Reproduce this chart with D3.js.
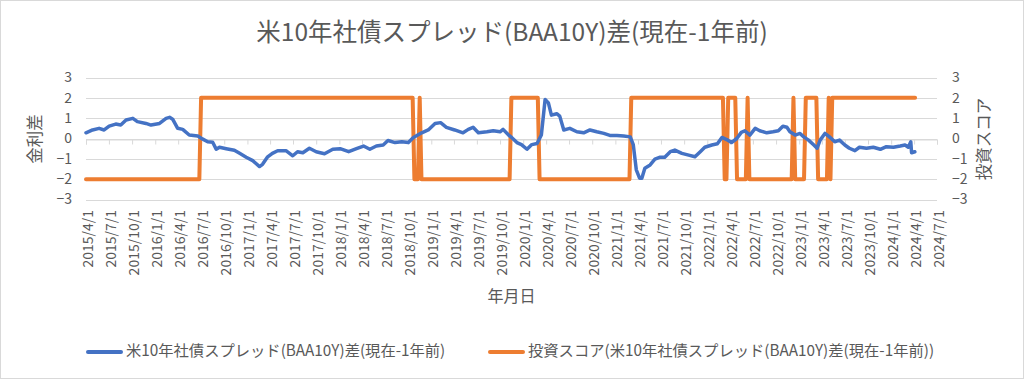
<!DOCTYPE html>
<html><head><meta charset="utf-8">
<script src="https://cdn.jsdelivr.net/npm/d3@7"></script>
<style>
html,body{margin:0;padding:0;background:#fff;}
svg{display:block;font-family:"Noto Sans CJK JP","Noto Sans",sans-serif;}
</style></head>
<body><svg id="c" width="1024" height="379"></svg>
<script>
const titleText = "米10年社債スプレッド(BAA10Y)差(現在-1年前)";
const seriesNames = ["米10年社債スプレッド(BAA10Y)差(現在-1年前)", "投資スコア(米10年社債スプレッド(BAA10Y)差(現在-1年前))"];
const xAxisTitle = "年月日";
const yLeftTitle = "金利差";
const yRightTitle = "投資スコア";
const yTicks = [-3, -2, -1, 0, 1, 2, 3];
const xTickLabels = ["2015/4/1","2015/7/1","2015/10/1","2016/1/1","2016/4/1","2016/7/1","2016/10/1","2017/1/1","2017/4/1","2017/7/1","2017/10/1","2018/1/1","2018/4/1","2018/7/1","2018/10/1","2019/1/1","2019/4/1","2019/7/1","2019/10/1","2020/1/1","2020/4/1","2020/7/1","2020/10/1","2021/1/1","2021/4/1","2021/7/1","2021/10/1","2022/1/1","2022/4/1","2022/7/1","2022/10/1","2023/1/1","2023/4/1","2023/7/1","2023/10/1","2024/1/1","2024/4/1","2024/7/1"];

const spreadDates = ["2015-04-01","2015-04-27","2015-05-23","2015-06-12","2015-07-02","2015-07-28","2015-08-17","2015-09-07","2015-10-04","2015-10-22","2015-11-25","2015-12-15","2016-01-18","2016-02-13","2016-02-27","2016-03-10","2016-03-30","2016-04-19","2016-05-15","2016-06-18","2016-07-06","2016-07-27","2016-08-16","2016-08-30","2016-09-12","2016-10-09","2016-11-10","2016-12-01","2016-12-27","2017-01-22","2017-02-18","2017-03-02","2017-03-21","2017-04-10","2017-05-01","2017-06-03","2017-06-30","2017-07-19","2017-08-09","2017-09-04","2017-10-01","2017-11-03","2017-12-06","2018-01-04","2018-02-07","2018-03-10","2018-04-07","2018-05-02","2018-05-28","2018-06-24","2018-07-13","2018-08-10","2018-09-06","2018-10-02","2018-10-22","2018-11-24","2018-12-20","2019-01-16","2019-02-07","2019-03-02","2019-04-04","2019-05-07","2019-05-28","2019-06-16","2019-07-07","2019-08-10","2019-09-04","2019-10-01","2019-10-13","2019-11-04","2019-11-16","2019-12-07","2019-12-25","2020-01-16","2020-02-04","2020-02-25","2020-03-13","2020-03-28","2020-04-10","2020-04-22","2020-05-13","2020-05-25","2020-06-10","2020-07-04","2020-08-01","2020-08-28","2020-09-22","2020-10-19","2020-11-16","2020-12-10","2021-01-07","2021-02-03","2021-03-01","2021-03-13","2021-03-25","2021-04-07","2021-04-16","2021-04-28","2021-05-19","2021-06-07","2021-06-28","2021-07-16","2021-08-07","2021-08-25","2021-09-22","2021-10-19","2021-11-13","2021-12-04","2021-12-22","2022-01-19","2022-02-10","2022-02-28","2022-03-19","2022-04-07","2022-04-28","2022-05-16","2022-05-30","2022-06-19","2022-07-10","2022-07-28","2022-08-25","2022-09-19","2022-10-10","2022-10-28","2022-11-13","2022-11-25","2022-12-16","2023-01-04","2023-01-19","2023-02-07","2023-02-28","2023-03-13","2023-03-25","2023-04-13","2023-05-01","2023-05-22","2023-06-10","2023-07-01","2023-07-19","2023-08-10","2023-08-28","2023-09-25","2023-10-22","2023-11-19","2023-12-13","2024-01-10","2024-02-06","2024-02-25","2024-03-09","2024-03-19","2024-03-22","2024-04-04"];
const spreadValues = [0.28,0.42,0.50,0.42,0.61,0.71,0.66,0.91,0.99,0.83,0.74,0.66,0.74,0.99,1.04,0.95,0.50,0.45,0.17,0.12,-0.02,-0.16,-0.18,-0.53,-0.43,-0.50,-0.58,-0.73,-0.92,-1.09,-1.38,-1.27,-0.92,-0.73,-0.60,-0.60,-0.85,-0.65,-0.70,-0.48,-0.65,-0.75,-0.53,-0.50,-0.65,-0.50,-0.37,-0.53,-0.37,-0.32,-0.10,-0.20,-0.16,-0.20,0.05,0.28,0.42,0.74,0.78,0.55,0.42,0.28,0.45,0.55,0.28,0.33,0.38,0.33,0.45,0.17,0.05,-0.20,-0.30,-0.53,-0.30,-0.25,0.17,1.92,1.75,1.15,1.22,1.10,0.42,0.50,0.33,0.28,0.42,0.33,0.25,0.15,0.15,0.12,0.08,-0.30,-1.54,-1.95,-1.95,-1.46,-1.30,-1.02,-0.92,-0.92,-0.65,-0.57,-0.73,-0.82,-0.90,-0.65,-0.43,-0.32,-0.26,0.05,-0.05,-0.20,0.00,0.30,0.38,0.17,0.50,0.38,0.28,0.33,0.38,0.60,0.55,0.33,0.17,0.25,0.08,-0.08,-0.32,-0.48,-0.08,0.25,0.08,-0.16,-0.08,-0.32,-0.48,-0.60,-0.43,-0.48,-0.43,-0.53,-0.40,-0.43,-0.37,-0.32,-0.43,-0.16,-0.70,-0.65];

const scoreDates = ["2015-04-01","2016-06-24","2016-07-01","2018-10-19","2018-10-26","2018-11-09","2018-11-16","2018-11-23","2019-11-08","2019-11-15","2020-02-28","2020-03-06","2021-02-26","2021-03-05","2022-03-04","2022-03-11","2022-03-18","2022-03-25","2022-04-22","2022-04-29","2022-06-03","2022-06-10","2022-06-17","2022-12-02","2022-12-09","2022-12-16","2023-01-20","2023-01-27","2023-03-10","2023-03-17","2023-04-21","2023-04-28","2023-05-05","2023-05-12","2024-04-05"];
const scoreValues = [-2,-2,2,2,-2,-2,2,-2,-2,2,2,-2,-2,2,2,-2,-2,2,2,-2,-2,2,-2,-2,2,-2,-2,2,2,-2,-2,2,-2,2,2];

const parseISO = d3.timeParse("%Y-%m-%d");
const parseTick = d3.timeParse("%Y/%m/%d");
const spread = spreadDates.map((d,i)=>({date:parseISO(d), v:spreadValues[i]}));
const score = scoreDates.map((d,i)=>({date:parseISO(d), v:scoreValues[i]}));
const tickDates = xTickLabels.map(s=>parseTick(s));

const svg = d3.select("#c");
const W = 1024, H = 379;
const plot = {l:86, r:937, t:77.5, b:199.5};
const grey = "#595959", gridC = "#D9D9D9";
const blue = "#4472C4", orange = "#ED7D31";

svg.append("rect").attr("x",0.5).attr("y",0.5).attr("width",W-1).attr("height",H-1)
  .attr("fill","#fff").attr("stroke",gridC);

const x = d3.scaleTime().domain([tickDates[0], tickDates[tickDates.length-1]]).range([plot.l, plot.r]);
const yL = d3.scaleLinear().domain([-3,3]).range([plot.b, plot.t]);
const yR = d3.scaleLinear().domain([-3,3]).range([plot.b, plot.t]);

// gridlines
svg.append("g").selectAll("line").data(yTicks).join("line")
  .attr("x1",plot.l).attr("x2",plot.r)
  .attr("y1",d=>Math.round(yL(d))+0.5).attr("y2",d=>Math.round(yL(d))+0.5)
  .attr("stroke",gridC).attr("stroke-width",1);

// x axis line at zero with ticks
const y0 = Math.round(yL(0))+0.5;
const xa = svg.append("g").attr("transform",`translate(0,${y0})`)
  .call(d3.axisBottom(x).tickValues(tickDates).tickSize(5).tickFormat(""));
xa.select(".domain").attr("stroke",gridC);
xa.selectAll(".tick line").attr("stroke",gridC);

// x tick labels at bottom
svg.append("g").selectAll("text").data(tickDates).join("text")
  .attr("transform",(d,i)=>`translate(${x(d)+3},210) rotate(-90)`)
  .attr("text-anchor","end").attr("dominant-baseline","middle")
  .attr("fill",grey).style("font-size","14px")
  .text((d,i)=>xTickLabels[i]);

// left y axis labels
const yla = svg.append("g").attr("transform",`translate(${plot.l},0)`)
  .call(d3.axisLeft(yL).tickValues(yTicks).tickSize(0).tickPadding(14).tickFormat(d3.format("d")));
yla.select(".domain").remove();
yla.selectAll("text").attr("fill",grey).style("font-size","14px").style("font-family","'Noto Sans CJK JP',sans-serif");

const yra = svg.append("g").attr("transform",`translate(${plot.r},0)`)
  .call(d3.axisRight(yR).tickValues(yTicks).tickSize(0).tickPadding(15).tickFormat(d3.format("d")));
yra.select(".domain").remove();
yra.selectAll("text").attr("fill",grey).style("font-size","14px").style("font-family","'Noto Sans CJK JP',sans-serif");

// lines
const lineL = d3.line().x(d=>x(d.date)).y(d=>yL(d.v));
const lineR = d3.line().x(d=>x(d.date)).y(d=>yR(d.v));
svg.append("path").datum(score).attr("d",lineR).attr("fill","none")
  .attr("stroke",orange).attr("stroke-width",4).attr("stroke-linejoin","round").attr("stroke-linecap","round");
svg.append("path").datum(spread).attr("d",lineL).attr("fill","none")
  .attr("stroke",blue).attr("stroke-width",3.5).attr("stroke-linejoin","round").attr("stroke-linecap","round");

// title
svg.append("text").attr("x",512).attr("y",34).attr("text-anchor","middle").attr("dominant-baseline","middle")
  .attr("fill",grey).style("font-size","24.5px").text(titleText);

// axis titles
svg.append("text").attr("x",(plot.l+plot.r)/2).attr("y",298).attr("text-anchor","middle").attr("dominant-baseline","middle")
  .attr("fill",grey).style("font-size","16px").text(xAxisTitle);
svg.append("text").attr("transform",`translate(37,139) rotate(-90)`).attr("text-anchor","middle").attr("dominant-baseline","middle")
  .attr("fill",grey).style("font-size","16.5px").text(yLeftTitle);
svg.append("text").attr("transform",`translate(986,139) rotate(-90)`).attr("text-anchor","middle").attr("dominant-baseline","middle")
  .attr("fill",grey).style("font-size","16.5px").text(yRightTitle);

// legend
const leg = [{x:88, c:blue, t:seriesNames[0]}, {x:490, c:orange, t:seriesNames[1]}];
const lg = svg.append("g");
leg.forEach(o=>{
  lg.append("line").attr("x1",o.x).attr("x2",o.x+33).attr("y1",352).attr("y2",352)
    .attr("stroke",o.c).attr("stroke-width",4).attr("stroke-linecap","round");
  lg.append("text").attr("x",o.x+38).attr("y",352).attr("dominant-baseline","middle")
    .attr("fill",grey).style("font-size","15.3px").text(o.t);
});
</script></body></html>
